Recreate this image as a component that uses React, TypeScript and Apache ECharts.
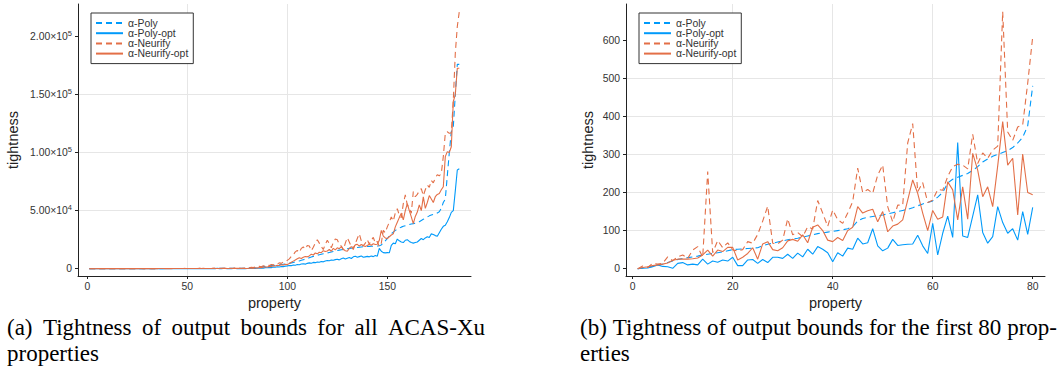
import React, { useEffect, useRef } from 'react';
import * as echarts from 'echarts';

// ---- data: first 80 properties (shared by both panels) ----
const polyFirst80 = [
  0, 2, 4, 6, 9, 12, 16, 20, 24, 27,
  29, 31, 33, 36, 38, 40, 42, 44, 47, 50,
  51, 52, 53, 54, 55, 60, 64, 67, 70, 73,
  76, 78, 80, 83, 86, 89, 92, 94, 96, 98,
  100, 102, 105, 110, 125, 132, 135, 137, 139, 141,
  144, 147, 150, 153, 156, 160, 165, 170, 174, 178,
  188, 200, 225, 235, 240, 245, 250, 258, 268, 280,
  288, 295, 300, 305, 310, 318, 330, 345, 375, 480,
];
const polyOptFirst80 = [
  0, 1, 2, 5, 10, 6, 5, 1, 14, 16,
  10, 12, 10, 25, 12, 20, 17, 23, 20, 30,
  8, 8, 23, 24, 14, 24, 16, 30, 30, 27,
  38, 27, 41, 31, 51, 38, 58, 51, 42, 18,
  42, 33, 54, 51, 80, 65, 68, 105, 60, 47,
  54, 77, 61, 63, 64, 65, 88, 60, 40, 119,
  36, 93, 138, 82, 331, 86, 82, 138, 194, 95,
  67, 84, 163, 121, 93, 105, 75, 150, 90, 161,
];
const neurifyFirst80 = [
  0, 7, 3, 14, 12, 14, 31, 21, 31, 36,
  27, 49, 58, 30, 255, 42, 74, 55, 68, 49,
  47, 50, 71, 67, 90, 125, 164, 67, 65, 75,
  131, 89, 95, 84, 110, 104, 179, 146, 111, 154,
  129, 119, 146, 176, 264, 200, 208, 198, 246, 272,
  163, 123, 167, 167, 330, 381, 202, 226, 174, 180,
  208, 206, 242, 268, 274, 272, 262, 353, 276, 304,
  290, 311, 322, 675, 359, 337, 372, 378, 487, 609,
];
const neurifyOptFirst80 = [
  0, 3, 5, 8, 10, 12, 15, 22, 25, 25,
  25, 26, 28, 36, 49, 33, 49, 45, 56, 56,
  23, 30, 40, 55, 25, 65, 71, 50, 47, 55,
  73, 77, 72, 89, 68, 109, 115, 100, 75, 71,
  82, 74, 100, 109, 163, 146, 152, 156, 123, 150,
  97, 112, 117, 128, 180, 233, 198, 146, 100, 153,
  130, 136, 228, 207, 128, 215, 130, 303, 259, 189,
  215, 163, 270, 386, 272, 290, 141, 301, 200, 194,
];

// ---- data: properties 81..186 (left panel only) ----
const polyRest = [
  700, 800, 900, 1000, 1200, 1400, 1600, 1800, 2000, 2200,
  2400, 2600, 2800, 3000, 3200, 3400, 3600, 3800, 4000, 4300,
  4600, 5000, 5400, 5800, 6200, 6700, 7200, 7700, 8200, 8800,
  9400, 10000, 10600, 11200, 11600, 12000, 12400, 12800, 13200, 13600,
  14000, 14400, 14800, 15200, 15600, 16000, 16300, 16600, 16900, 17200,
  17500, 17700, 17900, 18100, 18300, 18500, 18700, 18900, 19000, 19100,
  19200, 19300, 19400, 19500, 19600, 19700, 20500, 22000, 24000, 26000,
  28000, 30000, 31500, 33000, 34000, 35000, 35800, 36500, 37000, 37500,
  38000, 38500, 38800, 39200, 39600, 40500, 41500, 42500, 43500, 44500,
  45500, 46200, 46800, 47400, 48000, 49000, 52000, 57000, 60000, 80000,
  100000, 118000, 122000, 150000, 176000, 176000,
];
const polyOptRest = [
  300, 150, 400, 250, 500, 350, 700, 500, 900, 800,
  1100, 900, 1400, 1200, 1600, 1500, 1900, 1800, 2200, 2400,
  2800, 2600, 3200, 3000, 3600, 3400, 4000, 4200, 3900, 4600,
  5000, 4700, 5400, 5200, 5800, 5500, 6200, 5900, 6600, 7000,
  6800, 7400, 7200, 7800, 8200, 7600, 8600, 9200, 8400, 9000,
  9600, 8800, 10200, 10800, 9800, 10400, 11000, 9800, 10200, 10600,
  10200, 11000, 10400, 11400, 10800, 17500, 15000, 13800, 13600, 13800,
  13700, 20000, 22000, 21500, 25500, 24000, 23000, 22500, 24500, 25000,
  23500, 22500, 22000, 22500, 23000, 24500, 26000, 25000, 26500, 27500,
  26800, 30000, 29500, 28500, 28000, 31000, 34000, 36500, 37500, 40500,
  44000, 48500, 50000, 67000, 85000, 86000,
];
const neurifyRest = [
  800, 1200, 900, 1500, 1300, 2000, 1700, 2500, 2200, 3000,
  2800, 3600, 3300, 4200, 4000, 5000, 4600, 5800, 6200, 7200,
  8500, 10500, 12000, 14500, 15800, 14000, 17500, 18700, 17000, 20000,
  19500, 15500, 18500, 22000, 25000, 22000, 19000, 16500, 21000, 24500,
  21500, 18000, 22500, 25500, 25000, 21000, 19500, 16000, 22000, 26700,
  23000, 19000, 16500, 21500, 26000, 30000, 24000, 19500, 22000, 25000,
  21000, 24500, 27000, 22000, 23500, 19000, 22000, 33000, 31000, 36000,
  40000, 44600, 41000, 48000, 51700, 46000, 44000, 56000, 63500, 55000,
  52000, 47700, 66400, 62000, 64000, 67000, 69000, 63000, 68000, 72000,
  70000, 76000, 74000, 78000, 81000, 80000, 82000, 96500, 116600, 118000,
  116600, 117000, 145000, 185600, 208600, 221500,
];
const neurifyOptRest = [
  400, 600, 300, 800, 500, 1100, 900, 1300, 1600, 1400,
  2000, 1800, 2500, 2300, 3000, 2700, 3400, 3100, 3800, 3500,
  4500, 5500, 6500, 7500, 8500, 9500, 8800, 9800, 10500, 10200,
  11000, 12500, 11800, 13500, 12800, 14200, 13800, 15500, 14800, 15200,
  16500, 15000, 17500, 16200, 18000, 17200, 19000, 16800, 15500, 15000,
  17500, 19000, 18200, 20500, 21000, 19500, 20800, 19800, 19200, 20000,
  21000, 20200, 21500, 20800, 21000, 24500, 33000, 28000, 26500, 25900,
  27500, 29000, 30000, 36000, 40000, 44000, 47700, 42000, 50000, 56000,
  50000, 44600, 38800, 45000, 48800, 55000, 50000, 61900, 52000, 57000,
  63000, 60000, 57000, 62000, 64000, 64800, 68000, 70600, 96500, 100800,
  100000, 105000, 144000, 150000, 172700, 172700,
];

const seriesNames = ['α-Poly', 'α-Poly-opt', 'α-Neurify', 'α-Neurify-opt'];
const leftYTicks = [0, 50000, 100000, 150000, 200000];
const leftXTicks = [0, 50, 100, 150];
const rightYTicks = [0, 100, 200, 300, 400, 500, 600];
const rightXTicks = [0, 20, 40, 60, 80];
const captionA = ['(a) Tightness of output bounds for all ACAS-Xu', 'properties'];
const captionB = ['(b) Tightness of output bounds for the first 80 prop-', 'erties'];

const BLUE = '#009AFA';
const ORANGE = '#E36F47';
const FONT = 'Liberation Sans';
const TEXT = '#333';
const CAPTION_FONT = "23px 'Liberation Serif'";

function pairs(arr: number[]) {
  return arr.map((v, i) => [i + 1, v]);
}

function sciLabel(v: number) {
  if (v === 0) return '0';
  const e = Math.floor(Math.log10(v));
  const m = (v / Math.pow(10, e)).toFixed(2);
  return `{m|${m}×10}{e|${e}}`;
}

// justified caption line: words spread between x0 and x1
function justifiedLine(text: string, x0: number, x1: number, top: number) {
  const words = text.split(' ');
  const ctx = document.createElement('canvas').getContext('2d');
  let widths = words.map((w) => w.length * 10);
  if (ctx) {
    ctx.font = CAPTION_FONT;
    widths = words.map((w) => ctx.measureText(w).width);
  }
  const total = widths.reduce((a, b) => a + b, 0);
  const gap = (x1 - x0 - total) / (words.length - 1);
  const out: any[] = [];
  let x = x0;
  words.forEach((w, i) => {
    out.push({ type: 'text', left: x, top, style: { text: w, font: CAPTION_FONT, fill: '#000' } });
    x += widths[i] + gap;
  });
  return out;
}

export default function App() {
  const ref = useRef<HTMLDivElement>(null);
  useEffect(() => {
    if (!ref.current) return;
    const chart = echarts.init(ref.current, null, { renderer: 'svg' });

    const leftData = [
      [...polyFirst80, ...polyRest],
      [...polyOptFirst80, ...polyOptRest],
      [...neurifyFirst80, ...neurifyRest],
      [...neurifyOptFirst80, ...neurifyOptRest],
    ];
    const rightData = [polyFirst80, polyOptFirst80, neurifyFirst80, neurifyOptFirst80];
    const colors = [BLUE, BLUE, ORANGE, ORANGE];
    const dashed = [true, false, true, false];

    const mkSeries = (data: number[][], idx: number) =>
      data.map((arr, i) => ({
        type: 'line',
        name: seriesNames[i],
        xAxisIndex: idx,
        yAxisIndex: idx,
        data: pairs(arr),
        symbol: 'none',
        showSymbol: false,
        color: colors[i],
        lineStyle: { width: 1.1, color: colors[i], type: dashed[i] ? [6, 4] : 'solid' },
      }));

    const axisCommon = {
      axisLine: { show: true, onZero: false, lineStyle: { color: '#222', width: 1 } },
      splitLine: { show: true, showMinLine: false, showMaxLine: false, lineStyle: { color: '#e6e6e6', width: 1 } },
    };

    const nameStyle = { fontFamily: FONT, fontSize: 14.5, color: '#222' };

    const xAxis = (gi: number, min: number, max: number, iv: number, ticks: number[]) => ({
      type: 'value',
      gridIndex: gi,
      min,
      max,
      minInterval: iv,
      maxInterval: iv,
      name: 'property',
      nameLocation: 'middle',
      nameGap: 16,
      nameTextStyle: nameStyle,
      ...axisCommon,
      axisTick: { show: true, length: 3, customValues: ticks, lineStyle: { color: '#222' } },
      axisLabel: { customValues: ticks, fontFamily: FONT, fontSize: 10.4, color: TEXT, margin: 5 },
    });

    const legend = (left: number) => ({
      orient: 'vertical',
      left,
      top: 13,
      itemWidth: 27,
      itemHeight: 8,
      itemGap: 0.2,
      padding: [5, 5, 5, 4],
      borderColor: '#333',
      borderWidth: 1,
      borderRadius: 0,
      backgroundColor: '#fff',
      itemStyle: { opacity: 0 },
      textStyle: { fontFamily: FONT, fontSize: 10.4, lineHeight: 10, color: TEXT },
      data: seriesNames,
    });

    chart.setOption({
      animation: false,
      backgroundColor: '#fff',
      grid: [
        { left: 78, top: 4, width: 393, height: 272 },
        { left: 626, top: 4, width: 419, height: 272 },
      ],
      xAxis: [
        xAxis(0, -4.65, 191.85, 50, leftXTicks),
        xAxis(1, -1.34, 82.46, 20, rightXTicks),
      ],
      yAxis: [
        {
          type: 'value',
          gridIndex: 0,
          min: -6300,
          max: 228000,
          minInterval: 50000,
          maxInterval: 50000,
          name: 'tightness',
          nameLocation: 'middle',
          nameGap: 58,
          nameTextStyle: nameStyle,
          ...axisCommon,
          axisTick: { show: true, length: 3, customValues: leftYTicks, lineStyle: { color: '#222' } },
          axisLabel: {
            customValues: leftYTicks,
            margin: 6,
            formatter: (v: number) => sciLabel(v),
            fontFamily: FONT,
            fontSize: 10.4,
            color: TEXT,
            rich: {
              m: { fontFamily: FONT, fontSize: 10.4, color: TEXT, lineHeight: 14 },
              e: { fontFamily: FONT, fontSize: 7.5, color: TEXT, lineHeight: 8, verticalAlign: 'top' },
            },
          },
        },
        {
          type: 'value',
          gridIndex: 1,
          min: -19.2,
          max: 695,
          minInterval: 100,
          maxInterval: 100,
          name: 'tightness',
          nameLocation: 'middle',
          nameGap: 31,
          nameTextStyle: nameStyle,
          ...axisCommon,
          axisTick: { show: true, length: 3, customValues: rightYTicks, lineStyle: { color: '#222' } },
          axisLabel: { customValues: rightYTicks, margin: 6, fontFamily: FONT, fontSize: 10.4, color: TEXT },
        },
      ],
      legend: [legend(91), legend(639)],
      series: [...mkSeries(leftData, 0), ...mkSeries(rightData, 1)],
      graphic: [
        ...justifiedLine(captionA[0], 7, 485, 316),
        { type: 'text', left: 7, top: 342, style: { text: captionA[1], font: CAPTION_FONT, fill: '#000' } },
        ...justifiedLine(captionB[0], 580, 1057, 316),
        { type: 'text', left: 580, top: 342, style: { text: captionB[1], font: CAPTION_FONT, fill: '#000' } },
      ],
    });
    return () => chart.dispose();
  }, []);
  return (
    <div
      ref={ref}
      style={{ position: 'absolute', left: 0, top: 0, width: 1062, height: 373, background: '#fff' }}
    />
  );
}
